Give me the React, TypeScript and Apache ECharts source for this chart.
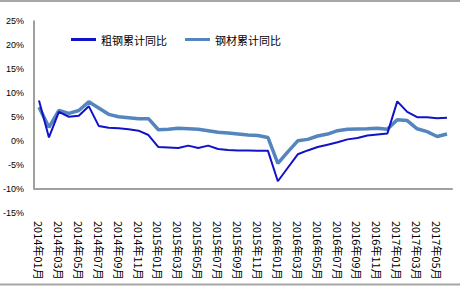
import React, { useEffect, useRef } from 'react';
import * as echarts from 'echarts';

const categories = [
  '2014年01月', '2014年02月', '2014年03月', '2014年04月', '2014年05月', '2014年06月',
  '2014年07月', '2014年08月', '2014年09月', '2014年10月', '2014年11月', '2014年12月',
  '2015年01月', '2015年02月', '2015年03月', '2015年04月', '2015年05月', '2015年06月',
  '2015年07月', '2015年08月', '2015年09月', '2015年10月', '2015年11月', '2015年12月',
  '2016年01月', '2016年02月', '2016年03月', '2016年04月', '2016年05月', '2016年06月',
  '2016年07月', '2016年08月', '2016年09月', '2016年10月', '2016年11月', '2016年12月',
  '2017年01月', '2017年02月', '2017年03月', '2017年04月', '2017年05月', '2017年06月',
];

const crudeSteel = [
  8.4, 0.7, 6.0, 5.0, 5.2, 7.2, 3.1, 2.7, 2.6, 2.4, 2.1, 1.2,
  -1.3, -1.4, -1.5, -1.0, -1.5, -1.0, -1.7, -1.9, -2.0, -2.0, -2.05, -2.05,
  -8.4, -5.6, -2.8, -2.0, -1.3, -0.8, -0.3, 0.3, 0.6, 1.1, 1.3, 1.5,
  8.2, 6.0, 4.9, 4.9, 4.7, 4.8,
];

const steelProducts = [
  7.0, 2.8, 6.3, 5.7, 6.3, 8.1, 6.8, 5.5, 5.0, 4.8, 4.6, 4.6,
  2.3, 2.4, 2.6, 2.5, 2.4, 2.1, 1.8, 1.6, 1.4, 1.2, 1.1, 0.7,
  -4.7, -2.3, 0.0, 0.3, 1.0, 1.4, 2.1, 2.4, 2.45, 2.5, 2.6, 2.4,
  4.4, 4.2, 2.5, 1.9, 0.9, 1.4,
];

const seriesNames = ['粗钢累计同比', '钢材累计同比'];
const yMin = -15;
const yMax = 25;
const yStep = 5;
const xAxisCross = -10;

const GRID_LEFT = 34;
const AXIS_COLOR = '#a0a0a0';

export default function App() {
  const ref = useRef<HTMLDivElement>(null);

  useEffect(() => {
    if (!ref.current) return;
    const chart = echarts.init(ref.current, undefined, { renderer: 'svg' });
    chart.setOption({
      animation: false,
      backgroundColor: '#ffffff',
      grid: { left: GRID_LEFT, right: 8, top: 20.5, bottom: 74 },
      legend: {
        data: seriesNames,
        left: 66,
        top: 29,
        icon: 'rect',
        itemWidth: 25,
        itemHeight: 3,
        itemGap: 18,
        textStyle: { fontSize: 11, color: '#000', fontFamily: 'Noto Sans CJK SC' },
      },
      xAxis: {
        type: 'category',
        data: categories,
        boundaryGap: true,
        axisLine: {
          onZero: true,
          onZeroAxisIndex: 1,
          lineStyle: { color: AXIS_COLOR, width: 2 },
        },
        axisTick: {
          inside: true,
          length: 4,
          interval: 1,
          lineStyle: { color: AXIS_COLOR, width: 1.5 },
        },
        axisLabel: {
          interval: 1,
          rotate: -90,
          margin: 8,
          fontSize: 11,
          color: '#000',
          fontFamily: 'Noto Sans CJK SC',
        },
        splitLine: { show: false },
      },
      yAxis: [
        {
          type: 'value',
          min: yMin,
          max: yMax,
          interval: yStep,
          axisLine: { show: false },
          axisTick: { show: false },
          splitLine: { show: false },
          axisLabel: {
            formatter: '{value}%',
            fontSize: 9,
            margin: 10,
            color: '#000',
            fontFamily: 'Liberation Sans',
          },
        },
        {
          type: 'value',
          show: false,
          min: yMin - xAxisCross,
          max: yMax - xAxisCross,
          interval: yStep,
          splitLine: { show: false },
        },
      ],
      series: [
        {
          name: seriesNames[0],
          type: 'line',
          data: crudeSteel,
          symbol: 'none',
          z: 4,
          itemStyle: { color: '#1212C8' },
          lineStyle: { color: '#1212C8', width: 2 },
        },
        {
          name: seriesNames[1],
          type: 'line',
          data: steelProducts,
          symbol: 'none',
          z: 3,
          itemStyle: { color: '#5585BE' },
          lineStyle: { color: '#5585BE', width: 3.5 },
        },
      ],
    });

    const yTop = chart.convertToPixel({ yAxisIndex: 0 }, yMax) as number;
    const yBottom = chart.convertToPixel({ yAxisIndex: 0 }, xAxisCross) as number;
    chart.setOption({
      graphic: [
        {
          type: 'line',
          shape: { x1: GRID_LEFT, y1: yTop, x2: GRID_LEFT, y2: yBottom },
          style: { stroke: AXIS_COLOR, lineWidth: 2 },
          z: 10,
        },
        {
          type: 'rect',
          shape: { x: 0, y: 0, width: 460, height: 2 },
          style: { fill: '#a6a6a6' },
        },
        {
          type: 'rect',
          shape: { x: 0, y: 283.5, width: 460, height: 2 },
          style: { fill: '#a6a6a6' },
        },
      ],
    });

    return () => chart.dispose();
  }, []);

  return (
    <div
      ref={ref}
      style={{ position: 'absolute', left: 0, top: 0, width: 460, height: 287 }}
    />
  );
}
